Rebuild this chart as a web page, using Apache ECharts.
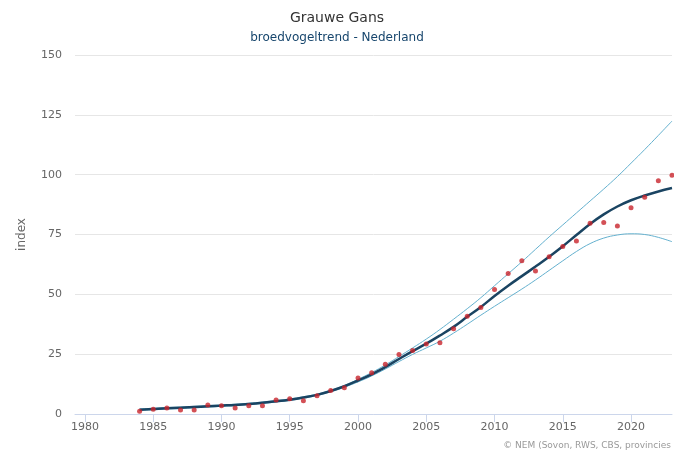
<!DOCTYPE html>
<html>
<head>
<meta charset="utf-8">
<script src="https://cdn.jsdelivr.net/npm/echarts@6/dist/echarts.min.js"></script>
<style>
html,body{margin:0;padding:0;background:#fff;}
#chart{width:674px;height:455px;}
</style>
</head>
<body>
<div id="chart"></div>
<script>
const years = [1984,1985,1986,1987,1988,1989,1990,1991,1992,1993,1994,1995,1996,1997,1998,1999,
  2000,2001,2002,2003,2004,2005,2006,2007,2008,2009,2010,2011,2012,2013,2014,2015,2016,2017,2018,2019,2020,2021,2022,2023];
const indexValues = [1.2,2.0,2.5,1.7,1.7,3.8,3.4,2.5,3.4,3.4,5.9,6.4,5.5,7.6,9.8,11.0,
  15.0,17.2,20.8,24.9,26.5,29.3,29.8,35.6,40.8,44.5,52.0,58.7,64.0,59.7,65.7,70.0,72.3,79.7,80.0,78.6,86.2,90.6,97.5,99.8];
const trendValues = [1.8,2.1,2.4,2.6,2.9,3.2,3.5,3.8,4.2,4.7,5.3,6.0,6.9,8.0,9.6,11.6,
  14.0,16.6,19.6,23.0,26.3,29.4,32.8,36.4,40.6,44.7,49.3,53.6,57.6,61.6,65.7,70.1,74.8,79.4,83.4,86.7,89.3,91.3,93.0,94.4];
const upperValues = [2.1,2.4,2.7,2.9,3.2,3.5,3.8,4.1,4.5,5.0,5.6,6.3,7.2,8.3,9.9,11.9,
  14.5,17.3,20.5,24.0,27.6,31.3,35.3,39.6,44.0,48.6,53.6,58.6,63.6,68.8,74.0,79.0,84.0,89.0,94.0,99.2,104.8,110.5,116.4,122.4];
const lowerValues = [1.5,1.8,2.1,2.3,2.6,2.9,3.2,3.5,3.9,4.4,5.0,5.7,6.6,7.7,9.3,11.2,
  13.4,15.9,18.8,21.9,24.9,27.6,30.4,33.8,37.5,41.3,45.0,48.6,52.2,56.0,60.0,64.0,67.9,71.2,73.5,74.8,75.3,75.0,73.8,72.0];
const xTickLabels = [1980,1985,1990,1995,2000,2005,2010,2015,2020];
const yTickLabels = [0,25,50,75,100,125,150];

const pairs = v => years.map((y,i)=>[y,v[i]]);
const font = '"DejaVu Sans", sans-serif';
const chart = echarts.init(document.getElementById('chart'));
chart.setOption({
  animation:false,
  backgroundColor:'#fff',
  title:[
    {text:'Grauwe Gans', left:'center', top:6, textStyle:{fontFamily:font,fontSize:14,fontWeight:'normal',color:'#333'}},
    {text:'broedvogeltrend - Nederland', left:'center', top:27, textStyle:{fontFamily:font,fontSize:12,fontWeight:'normal',color:'#17466d'}}
  ],
  graphic:[{type:'text', right:3, top:441, style:{text:'© NEM (Sovon, RWS, CBS, provincies', fill:'#999', font:'9px "DejaVu Sans", sans-serif'}}],
  grid:{left:75, right:2, top:55, bottom:41},
  xAxis:{
    type:'value', min:1979.27, max:2023,
    axisLine:{lineStyle:{color:'#ccd6eb'}},
    axisTick:{customValues:xTickLabels, length:8, lineStyle:{color:'#ccd6eb'}},
    axisLabel:{customValues:xTickLabels, color:'#666', fontFamily:font, fontSize:11, margin:8, formatter:v=>String(Math.round(v))},
    splitLine:{show:false}
  },
  yAxis:{
    type:'value', min:0, max:150, interval:25,
    name:'index', nameLocation:'middle', nameGap:47, nameRotate:90,
    nameTextStyle:{color:'#666', fontFamily:font, fontSize:12},
    axisLine:{show:false}, axisTick:{show:false},
    axisLabel:{color:'#666', fontFamily:font, fontSize:11, margin:13, customValues:yTickLabels},
    splitLine:{lineStyle:{color:'#e6e6e6'}}
  },
  series:[
    {type:'line', data:pairs(upperValues), smooth:0.4, showSymbol:false, lineStyle:{color:'#64b1cf', width:1}, z:2},
    {type:'line', data:pairs(lowerValues), smooth:0.4, showSymbol:false, lineStyle:{color:'#64b1cf', width:1}, z:2},
    {type:'line', data:pairs(trendValues), smooth:0.4, showSymbol:false, lineStyle:{color:'#1a4462', width:2.5}, z:3},
    {type:'scatter', data:pairs(indexValues), symbol:'circle', symbolSize:5, itemStyle:{color:'#c8242c'}, z:4}
  ]
});
</script>
</body>
</html>
